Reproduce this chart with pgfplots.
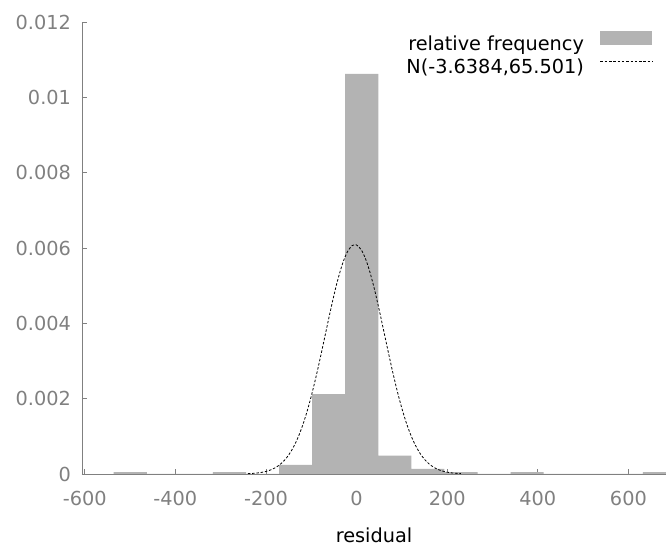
\documentclass[border=0pt]{standalone}
\usepackage{pgfplots}
\pgfplotsset{compat=1.18}
\usepackage{fontspec}
\setmainfont{DejaVu Sans}
\definecolor{barfill}{RGB}{179,179,179}
\definecolor{axgray}{RGB}{128,128,128}
\newcommand{\chartfont}{\fontsize{19.3pt}{23pt}\selectfont}
\begin{document}
\begin{tikzpicture}
\path[use as bounding box] (-82pt,-74pt) rectangle (584pt,474pt);
\begin{axis}[
  at={(0pt,0pt)}, anchor=south west,
  scale only axis, width=584pt, height=452pt,
  xmin=-606, xmax=683, ymin=0, ymax=0.012,
  axis lines*=left,
  axis line style={axgray, line width=0.8pt},
  tick align=inside,
  major tick length=5pt,
  tick style={axgray, line width=0.8pt},
  scaled y ticks=false,
  xtick={-600,-400,-200,0,200,400,600},
  xticklabels={-600,-400,-200,0,200,400,600},
  ytick={0,0.002,0.004,0.006,0.008,0.01,0.012},
  yticklabels={0,0.002,0.004,0.006,0.008,0.01,0.012},
  ticklabel style={font=\chartfont, text=axgray},
  xticklabel style={yshift=-13.5pt},
  yticklabel style={xshift=-7.5pt},
  /pgf/number format/assume math mode=true,
  xlabel={residual},
  xlabel style={at={(axis description cs:0.5,0)}, anchor=base, yshift=-68pt, font=\chartfont},
  legend plot pos=right,
  legend cell align=right,
  legend style={at={(axis description cs:1,1)}, anchor=north east, xshift=-10pt, yshift=-7pt,
    draw=none, fill=none, font=\chartfont, column sep=14pt, row sep=3pt},
]
\addplot[ybar interval, fill=barfill, draw=none,
  legend image code/.code={\fill[barfill] (0pt,-1pt) rectangle (52pt,12.5pt);}]
  coordinates {
  (-536,5.3e-5) (-463,0) (-390,0) (-317,5.3e-5) (-244,0) (-171,0.00024)
  (-98,0.00212) (-25,0.01062) (48,0.000485) (121,0.000133) (194,5.3e-5)
  (267,0) (340,5.3e-5) (413,0) (486,0) (559,0) (632,5.3e-5) (705,0)
};
\addlegendentry{relative frequency}
\addplot[black, line width=0.8pt, dash pattern=on 2.5pt off 1.8pt, smooth,
  legend image code/.code={\draw[black, line width=0.8pt, dash pattern=on 2.5pt off 1.8pt] (0pt,5pt) -- (52pt,5pt);}]
  coordinates {
  (-240,9.06e-6) (-230,1.554e-5) (-220,2.601e-5) (-210,4.259e-5) (-200,6.811e-5)
  (-190,1.0635e-4) (-180,1.6235e-4) (-170,2.4202e-4) (-160,3.5248e-4) (-150,5.0169e-4)
  (-140,6.974e-4) (-130,9.472e-4) (-120,1.2572e-3) (-110,1.6297e-3) (-100,2.0640e-3)
  (-90,2.5537e-3) (-80,3.0870e-3) (-70,3.6455e-3) (-60,4.2060e-3) (-50,4.7409e-3)
  (-40,5.2209e-3) (-30,5.6168e-3) (-20,5.9035e-3) (-10,6.0620e-3) (-3.6384,6.0906e-3)
  (0,6.0812e-3) (10,5.9600e-3) (20,5.7066e-3) (30,5.3382e-3) (40,4.8785e-3)
  (50,4.3555e-3) (60,3.7991e-3) (70,3.2376e-3) (80,2.6952e-3) (90,2.1922e-3)
  (100,1.7420e-3) (110,1.3523e-3) (120,1.0254e-3) (130,7.599e-4) (140,5.500e-4)
  (150,3.891e-4) (160,2.688e-4) (170,1.814e-4) (180,1.196e-4) (190,7.705e-5)
  (200,4.850e-5) (210,2.982e-5) (220,1.791e-5) (230,1.051e-5)
};
\addlegendentry{N(-3.6384,65.501)}
\end{axis}
\end{tikzpicture}
\end{document}
